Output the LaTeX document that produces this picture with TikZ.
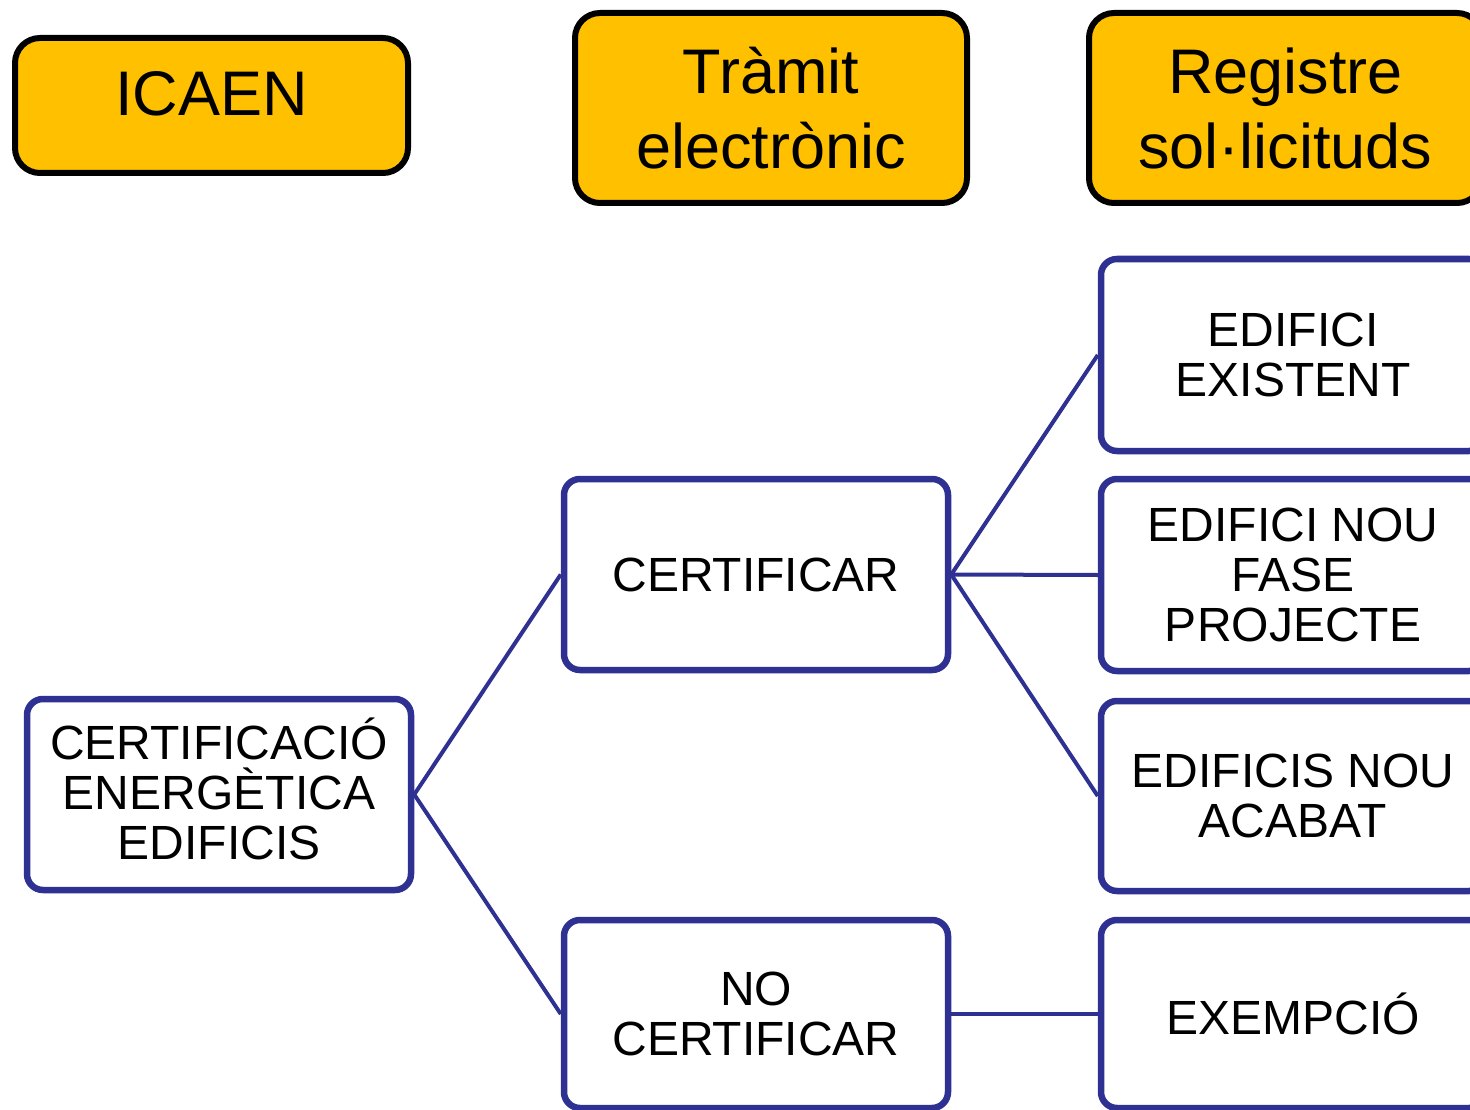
\documentclass[tikz,border=0pt]{standalone}
\usepackage{fontspec}
\setmainfont{Liberation Sans}
\definecolor{hdr}{RGB}{255,192,0}
\definecolor{navy}{RGB}{46,49,146}
\begin{document}
\begin{tikzpicture}[x=1pt,y=-1pt,
  hbox/.style={draw=black, line width=6pt, fill=hdr, rounded corners=25pt, inner sep=0pt, align=center,
    font=\fontsize{63}{75}\selectfont},
  bbox/.style={draw=navy, line width=6.5pt, fill=white, rounded corners=16pt, inner sep=0pt, align=center,
    minimum width=384pt, font=\fontsize{48}{50}\selectfont},
  link/.style={draw=navy, line width=4pt}]
\useasboundingbox (0,0) rectangle (1470,1110);
\clip (0,0) rectangle (1470,1110);
% headers
\node[hbox, minimum width=393pt, minimum height=135pt, text depth=23pt] (icaen) at (211.5,105.5) {ICAEN};
\node[hbox, minimum width=392pt, minimum height=190pt] (tramit) at (771,108) {Tràmit\\electrònic};
\node[hbox, minimum width=393pt, minimum height=190pt] (registre) at (1285.5,108) {Registre\\sol·licituds};
% blue boxes
\node[bbox, minimum height=191pt] (cee) at (219,794.5) {CERTIFICACIÓ\\ENERGÈTICA\\EDIFICIS\\[-38pt]};
\node[bbox, minimum height=191pt] (cert) at (756,574.5) {CERTIFICAR};
\node[bbox, minimum height=188pt] (nocert) at (756,1014) {NO\\CERTIFICAR};
\node[bbox, minimum height=192pt] (exist) at (1293,355) {EDIFICI\\EXISTENT};
\node[bbox, minimum height=192pt] (proj) at (1293,575) {EDIFICI NOU\\FASE\\PROJECTE};
\node[bbox, minimum height=190pt] (acab) at (1293,796) {EDIFICIS NOU\\ACABAT};
\node[bbox, minimum height=188pt] (exem) at (1293,1014) {EXEMPCIÓ};
% connectors
\draw[link] (cee.east) -- (cert.west);
\draw[link] (cee.east) -- (nocert.west);
\draw[link] (cert.east) -- (exist.west);
\draw[link] (cert.east) -- (proj.west);
\draw[link] (cert.east) -- (acab.west);
\draw[link] (nocert.east) -- (exem.west);
\end{tikzpicture}
\end{document}
